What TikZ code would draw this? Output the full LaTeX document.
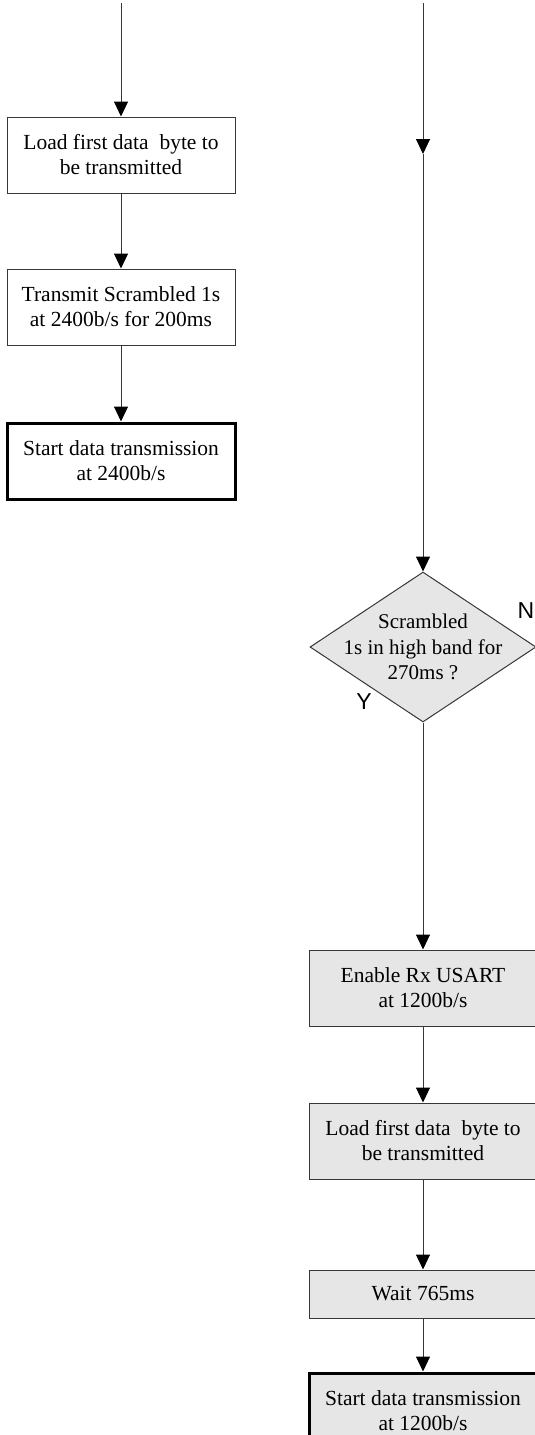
\documentclass[tikz,border=0pt]{standalone}
\usepackage{fontspec}
\setmainfont{Liberation Serif}
\newfontfamily\labelfont{Liberation Sans}
\usetikzlibrary{positioning,shapes.geometric,arrows.meta}
\definecolor{boxgray}{RGB}{230,230,230}
\definecolor{linegray}{RGB}{55,55,55}

\tikzset{
 stepbox/.style={draw=linegray, line width=1pt, minimum width=228pt, minimum height=76pt, inner sep=0pt, align=center, font=\fontsize{21.5}{25}\selectfont},
 graybox/.style={stepbox, fill=boxgray},
 endbox/.style={draw=black, line width=3pt},
 flow/.style={draw=linegray, line width=1pt, -{Triangle[length=15pt,width=14pt,color=black]}},
 yesno/.style={inner sep=0pt, font=\labelfont\fontsize{23}{23}\selectfont},
}

\begin{document}
\begin{tikzpicture}[x=1pt,y=1pt]
 \useasboundingbox (0,0) rectangle (535,-1435);

 %Coordinates
 \coordinate (ltop) at (121,-3);
 \coordinate (rtop) at (423,-3);
 \coordinate (rmid) at (423,-154);

 %Left column
 \node (loadA) [stepbox] at (121,-155) {Load first data~ byte to\\be transmitted};
 \node (scramA) [stepbox, below=75pt of loadA] {Transmit Scrambled 1s\\at 2400b/s for 200ms};
 \node (startA) [stepbox, endbox, below=76pt of scramA] {Start data transmission\\at 2400b/s};

 %Right column
 \node (check) [diamond, draw=linegray, fill=boxgray, line width=1pt, minimum width=226pt, minimum height=150pt, inner sep=0pt] at (423,-647) {};
 \node (checktext) [align=center, font=\fontsize{21}{25.5}\selectfont] at (check.center) {Scrambled\\1s in high band for\\270ms ?};
 \node (enable) [graybox, below=227pt of check] {Enable Rx USART\\at 1200b/s};
 \node (loadB) [graybox, below=76pt of enable] {Load first data~ byte to\\be transmitted};
 \node (waitB) [graybox, minimum height=48pt, below=90pt of loadB] {Wait 765ms};
 \node (startB) [graybox, endbox, below=53pt of waitB] {Start data transmission\\at 1200b/s};

 %Labels
 \node (lblN) [yesno] at (526,-611) {N};
 \node (lblY) [yesno] at (364,-702) {Y};

 %Arrows
 \draw[flow] (ltop) -- (loadA);
 \draw[flow] (loadA) -- (scramA);
 \draw[flow] (scramA) -- (startA);

 \draw[flow] (rtop) -- (rmid);
 \draw[flow] (rmid) -- (check);
 \draw[flow] (check) -- (enable);
 \draw[flow] (enable) -- (loadB);
 \draw[flow] (loadB) -- (waitB);
 \draw[flow] (waitB) -- (startB);
\end{tikzpicture}
\end{document}
